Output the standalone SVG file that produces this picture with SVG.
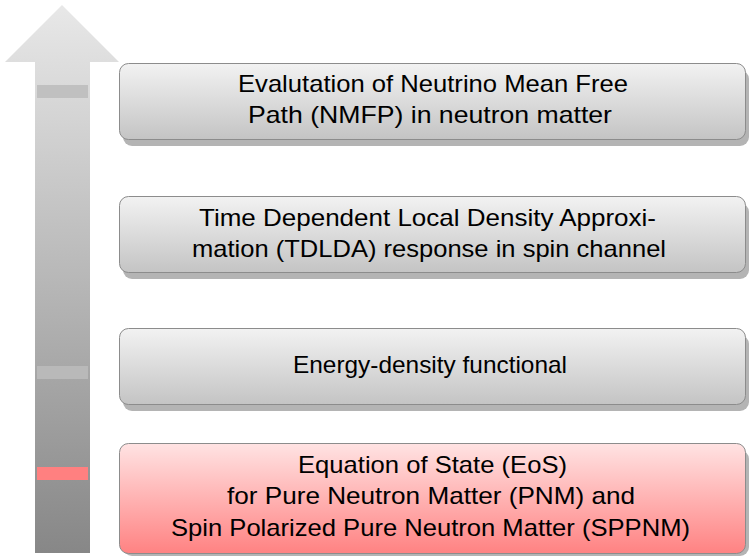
<svg xmlns="http://www.w3.org/2000/svg" width="751" height="556" viewBox="0 0 751 556">
<defs>
<linearGradient id="arrowGrad" gradientUnits="userSpaceOnUse" x1="0" y1="5" x2="0" y2="553">
<stop offset="0" stop-color="#e8e8e8"/>
<stop offset="1" stop-color="#878787"/>
</linearGradient>
<linearGradient id="grayGrad" x1="0" y1="0" x2="0" y2="1">
<stop offset="0" stop-color="#f2f2f2"/>
<stop offset="1" stop-color="#c4c4c4"/>
</linearGradient>
<linearGradient id="redGrad" x1="0" y1="0" x2="0" y2="1">
<stop offset="0" stop-color="#ffe3e3"/>
<stop offset="1" stop-color="#ff8282"/>
</linearGradient>
</defs>
<style>
.shadow{fill:#b4b4b4;}
.box{stroke:#8c8c8c;stroke-width:1;}
.gray{fill:url(#grayGrad);}
.red{fill:url(#redGrad);}
text{font-family:"Liberation Sans","DejaVu Sans",sans-serif;font-size:24px;fill:#000;text-anchor:middle;}
</style>
<g id="progress-arrow">
<path d="M62,5 L119,62 L90,62 L90,553 L35,553 L35,62 L5,62 Z" fill="url(#arrowGrad)"/>
<rect x="37" y="85" width="51" height="13" fill="#c0c0c0"/>
<rect x="37" y="366" width="51" height="13" fill="#b9b9b9"/>
<rect x="37" y="467" width="51" height="13" fill="#ff8080"/>
</g>
<g id="connectors"/>
<g id="node-nmfp">
<rect class="shadow" x="123" y="70" width="626" height="76" rx="9"/>
<rect class="box gray" x="119.5" y="63.5" width="626" height="76" rx="9"/>
<text x="433" y="92" textLength="390" lengthAdjust="spacingAndGlyphs">Evalutation of Neutrino Mean Free</text>
<text x="430" y="123" textLength="364" lengthAdjust="spacingAndGlyphs">Path (NMFP) in neutron matter</text>
</g>
<g id="node-tdlda">
<rect class="shadow" x="123" y="203" width="626" height="76" rx="9"/>
<rect class="box gray" x="119.5" y="196.5" width="626" height="76" rx="9"/>
<text x="427.5" y="226" textLength="457" lengthAdjust="spacingAndGlyphs">Time Dependent Local Density Approxi-</text>
<text x="429" y="257" textLength="474" lengthAdjust="spacingAndGlyphs">mation (TDLDA) response in spin channel</text>
</g>
<g id="node-edf">
<rect class="shadow" x="123" y="335" width="626" height="76" rx="9"/>
<rect class="box gray" x="119.5" y="328.5" width="626" height="76" rx="9"/>
<text x="430" y="373" textLength="274" lengthAdjust="spacingAndGlyphs">Energy-density functional</text>
</g>
<g id="node-eos">
<rect class="shadow" x="123" y="450" width="626" height="106" rx="9"/>
<rect class="box red" x="119.5" y="443.5" width="626" height="110" rx="9"/>
<text x="432.5" y="473" textLength="269" lengthAdjust="spacingAndGlyphs">Equation of State (EoS)</text>
<text x="431" y="504" textLength="408" lengthAdjust="spacingAndGlyphs">for Pure Neutron Matter (PNM) and</text>
<text x="430.5" y="536" textLength="519" lengthAdjust="spacingAndGlyphs">Spin Polarized Pure Neutron Matter (SPPNM)</text>
</g>
</svg>
